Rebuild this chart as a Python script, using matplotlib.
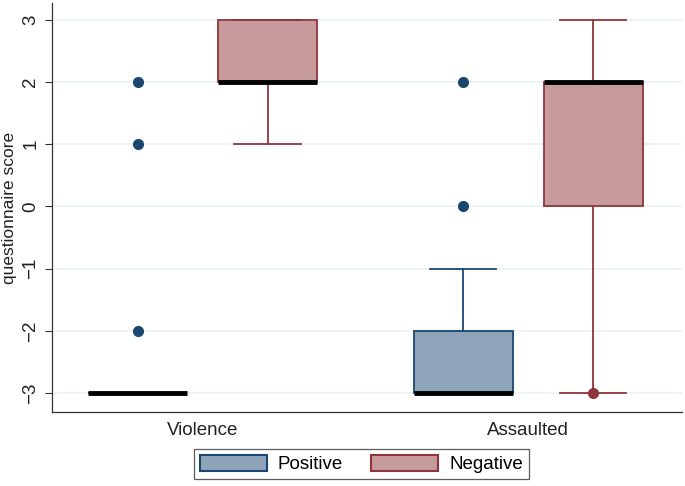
import matplotlib
matplotlib.use("Agg")
import matplotlib.pyplot as plt
from matplotlib.patches import Patch

plt.rcParams['font.family'] = ['Liberation Sans', 'DejaVu Sans']

groups = ["Violence", "Assaulted"]
series = ["Positive", "Negative"]

# box statistics per series, per group
pos_q1 = [-3, -3]
pos_med = [-3, -3]
pos_q3 = [-3, -2]
pos_wlo = [-3, -3]
pos_whi = [-3, -1]
pos_out = [[2, 1, -2], [2, 0]]

neg_q1 = [2, 0]
neg_med = [2, 2]
neg_q3 = [3, 2]
neg_wlo = [1, -3]
neg_whi = [3, 3]
neg_out = [[], [-3]]

yticks = [-3, -2, -1, 0, 1, 2, 3]

colors = {
    "Positive": ("#8ea4b9", "#1a476f"),
    "Negative": ("#c79a9c", "#90353b"),
}

fig = plt.figure(figsize=(6.85, 4.86), dpi=100)
ax = fig.add_axes([52/685, 74/486, 630/685, 409/486])

centers = [1, 2]
offset = 0.1997
width = 0.304
capw = 0.203

def stats(q1, med, q3, wlo, whi, out):
    res = []
    for i in range(len(q1)):
        res.append(dict(q1=q1[i], med=med[i], q3=q3[i], whislo=wlo[i],
                        whishi=whi[i], fliers=out[i]))
    return res

for name, st, sign in [("Positive", stats(pos_q1, pos_med, pos_q3, pos_wlo, pos_whi, pos_out), -1),
                       ("Negative", stats(neg_q1, neg_med, neg_q3, neg_wlo, neg_whi, neg_out), 1)]:
    fc, ec = colors[name]
    pos = [c + sign * offset for c in centers]
    ax.bxp(st, positions=pos, widths=width, patch_artist=True, manage_ticks=False,
           boxprops=dict(facecolor=fc, edgecolor=ec, linewidth=1.3),
           medianprops=dict(color="black", linewidth=3.5, solid_capstyle="butt"),
           whiskerprops=dict(color=ec, linewidth=1.3),
           capprops=dict(color=ec, linewidth=1.3),
           capwidths=capw,
           flierprops=dict(marker="o", markerfacecolor=ec, markeredgecolor=ec,
                           markersize=7, linestyle="none"),
           zorder=3)

ax.set_xlim(0.5376, 2.473)
ax.set_ylim(-3.306, 3.273)
ax.set_xticks(centers)
ax.set_xticklabels(groups, fontsize=13.5, color="#222222")
ax.tick_params(axis="x", length=0, pad=7)
ax.set_yticks(yticks)
ax.set_yticklabels([str(t).replace("-", "\u2212") for t in yticks], rotation=90,
                   va="center", fontsize=13.5, color="#222222")
ax.tick_params(axis="y", length=5, width=0.8, color="#333333", pad=4)
ax.set_ylabel("questionnaire score", fontsize=12.5, color="#222222", labelpad=4)
ax.grid(axis="y", color="#eaf2f3", linewidth=1.2, zorder=0)
ax.set_axisbelow(True)
for s in ["top", "right"]:
    ax.spines[s].set_visible(False)
for s in ["left", "bottom"]:
    ax.spines[s].set_color("#333333")
    ax.spines[s].set_linewidth(0.9)

handles = [Patch(facecolor=colors[n][0], edgecolor=colors[n][1], linewidth=1.5, label=n) for n in series]
leg = fig.legend(handles=handles, loc="center", bbox_to_anchor=(361.5/685, 1 - 464/486),
                 ncol=2, frameon=True, fancybox=False, edgecolor="#333333",
                 fontsize=13.5, handlelength=3.57, handleheight=0.95, columnspacing=1.5,
                 handletextpad=0.6, borderpad=0.3)
leg.get_frame().set_linewidth(0.9)

fig.savefig("out.png", dpi=100, facecolor="white")
